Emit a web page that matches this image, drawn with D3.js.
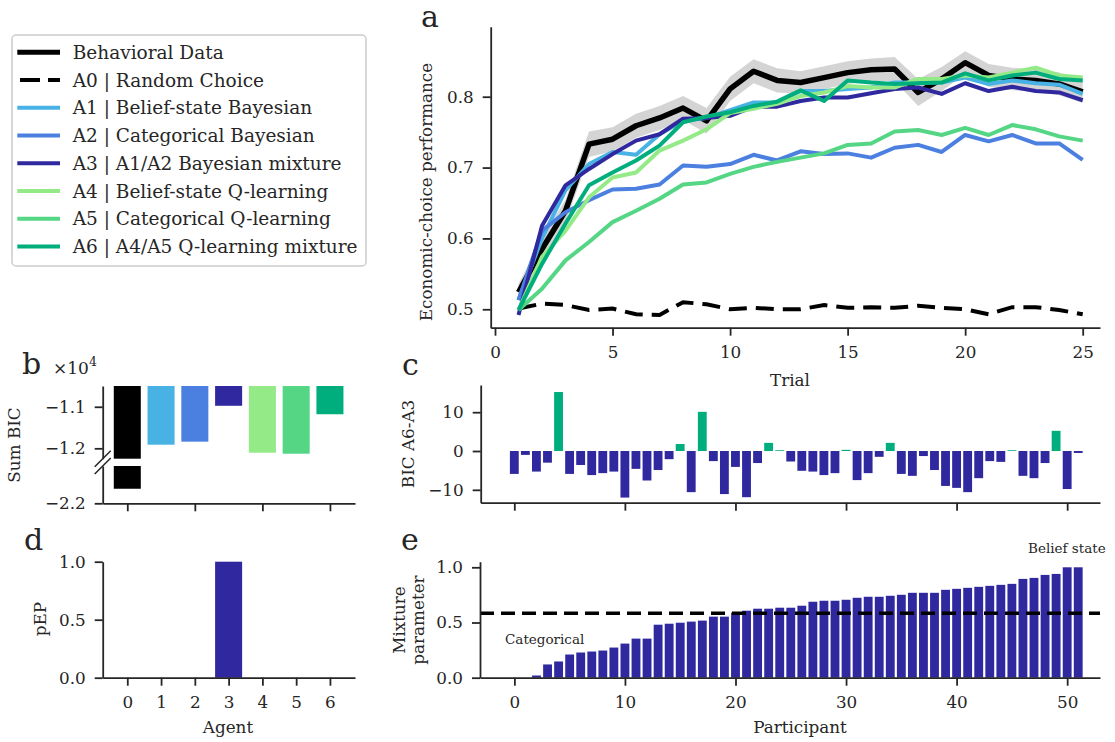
<!DOCTYPE html>
<html><head><meta charset="utf-8">
<script src="https://cdn.jsdelivr.net/npm/d3@7"></script>
<style>
body{margin:0;background:#fff;}
svg{font-family:"DejaVu Serif",serif;}
</style></head><body>
<svg id="chart" width="1115" height="742"></svg>
<script>
// ---------------- data ----------------
const trials = [1,2,3,4,5,6,7,8,9,10,11,12,13,14,15,16,17,18,19,20,21,22,23,24,25];
const behavioral = [0.524,0.585,0.639,0.733,0.740,0.759,0.770,0.784,0.766,0.811,0.836,0.823,0.820,0.827,0.834,0.838,0.839,0.806,0.825,0.848,0.830,0.825,0.823,0.818,0.807];
const behavioralSem = [0.012,0.015,0.016,0.018,0.017,0.017,0.017,0.017,0.018,0.017,0.017,0.017,0.016,0.016,0.016,0.016,0.017,0.019,0.017,0.016,0.016,0.016,0.016,0.016,0.016];
const a0 = [0.501,0.508,0.506,0.499,0.501,0.493,0.492,0.510,0.507,0.500,0.502,0.500,0.500,0.506,0.502,0.503,0.502,0.505,0.502,0.500,0.493,0.503,0.503,0.499,0.493];
const a1 = [0.513,0.600,0.668,0.705,0.722,0.718,0.747,0.766,0.770,0.781,0.792,0.792,0.808,0.808,0.811,0.813,0.820,0.820,0.820,0.827,0.818,0.823,0.819,0.817,0.804];
const a2 = [0.513,0.611,0.637,0.654,0.669,0.670,0.676,0.703,0.701,0.705,0.718,0.710,0.723,0.719,0.720,0.714,0.728,0.732,0.722,0.746,0.737,0.746,0.734,0.734,0.711];
const a3 = [0.492,0.618,0.675,0.698,0.719,0.738,0.747,0.769,0.770,0.773,0.786,0.786,0.794,0.799,0.799,0.805,0.811,0.813,0.804,0.819,0.808,0.814,0.808,0.806,0.795];
const a4 = [0.499,0.574,0.611,0.658,0.686,0.693,0.724,0.738,0.754,0.777,0.783,0.790,0.801,0.806,0.815,0.813,0.813,0.825,0.825,0.830,0.827,0.834,0.841,0.830,0.827];
const a5 = [0.499,0.529,0.569,0.595,0.623,0.639,0.656,0.676,0.679,0.691,0.701,0.708,0.714,0.720,0.732,0.734,0.751,0.753,0.746,0.756,0.746,0.760,0.754,0.744,0.738];
const a6 = [0.499,0.564,0.621,0.675,0.693,0.710,0.731,0.764,0.772,0.778,0.787,0.793,0.809,0.794,0.823,0.820,0.818,0.819,0.820,0.833,0.823,0.830,0.834,0.825,0.823];

const legendLabels = ["Behavioral Data","A0 | Random Choice","A1 | Belief-state Bayesian","A2 | Categorical Bayesian","A3 | A1/A2 Bayesian mixture","A4 | Belief-state Q-learning","A5 | Categorical Q-learning","A6 | A4/A5 Q-learning mixture"];
const agents = [0,1,2,3,4,5,6];
const agentColors = ["#000000","#48b2e4","#4c80e0","#2f289e","#93ea87","#55d685","#00ae7d"];
const sumBIC = [-21650,-11913,-11840,-10976,-12106,-12130,-11180];
const pEP = [0,0,0,1,0,0,0];

const participants = [0,1,2,3,4,5,6,7,8,9,10,11,12,13,14,15,16,17,18,19,20,21,22,23,24,25,26,27,28,29,30,31,32,33,34,35,36,37,38,39,40,41,42,43,44,45,46,47,48,49,50,51];
const bicDiff = [-5.9,-1.0,-5.3,-3.0,15.2,-5.9,-3.6,-6.2,-5.7,-5.3,-12.0,-4.6,-7.6,-4.9,-2.1,1.8,-10.6,10.1,-2.6,-11.1,-4.1,-11.9,-3.1,2.1,0.2,-2.7,-5.1,-5.3,-6.2,-5.7,0.3,-7.5,-5.7,-1.5,2.1,-5.9,-6.4,-1.3,-4.9,-9.0,-9.5,-10.6,-7.0,-2.6,-2.8,0.2,-6.4,-7.0,-3.1,5.2,-9.8,-0.5];
const mixture = [0,0,0.02,0.12,0.147,0.21,0.228,0.237,0.246,0.273,0.309,0.354,0.354,0.48,0.489,0.498,0.508,0.517,0.553,0.553,0.589,0.607,0.625,0.625,0.634,0.634,0.652,0.688,0.697,0.697,0.706,0.724,0.733,0.733,0.742,0.751,0.769,0.769,0.769,0.796,0.805,0.814,0.823,0.832,0.841,0.85,0.895,0.904,0.931,0.94,1.0,1.0];
const mixtureMean = 0.583;

const ticksTrial = [0,5,10,15,20,25];
const ticksPerf = [0.5,0.6,0.7,0.8];
const ticksBicUpper = [-12000,-11000];
const ticksBicLower = [-22000];
const ticksBicDiff = [-10,0,10];
const ticksParticipant = [0,10,20,30,40,50];
const ticksUnit = [0,0.5,1.0];

// ---------------- helpers ----------------
const svg = d3.select("#chart");
const INK = "#262626";
const FS = 16.8;
function styleAxis(g, opts={}) {
  g.select(".domain").attr("stroke", INK).attr("stroke-width", 1.8);
  g.selectAll(".tick line").attr("stroke", INK).attr("stroke-width", 1.8);
  g.selectAll(".tick text").attr("fill", INK).style("font-size", FS + "px").style("font-family", '"DejaVu Serif",serif');
  if (opts.noLabels) g.selectAll(".tick text").remove();
}
function txt(x, y, s, size, anchor="middle", rot=0) {
  const t = svg.append("text").attr("x", x).attr("y", y).text(s)
    .attr("fill", INK).style("font-size", size + "px").attr("text-anchor", anchor);
  if (rot) t.attr("transform", `rotate(${rot},${x},${y})`);
  return t;
}
const fmtMinus = d => d3.format(".1f")(d).replace("-", "\u2212");

// ---------------- panel a ----------------
const xA = d3.scaleLinear().domain([-0.183, 25.736]).range([490.7, 1100]);
const yA = d3.scaleLinear().domain([0.474, 0.8988]).range([327.7, 26.7]);
const gA = svg.append("g");
gA.append("path")
  .datum(trials.map((t,i)=>({t, lo: behavioral[i]-behavioralSem[i], hi: behavioral[i]+behavioralSem[i]})))
  .attr("fill", "#d4d4d4")
  .attr("d", d3.area().x(d=>xA(d.t)).y0(d=>yA(d.lo)).y1(d=>yA(d.hi)));
const lineGen = arr => d3.line().x((d,i)=>xA(trials[i])).y(d=>yA(d))(arr);
gA.append("path").attr("d", lineGen(behavioral)).attr("fill","none").attr("stroke","#000").attr("stroke-width",5.5).attr("stroke-linejoin","round");
gA.append("path").attr("d", lineGen(a0)).attr("fill","none").attr("stroke","#000").attr("stroke-width",4).attr("stroke-dasharray","18,9");
[a1,a2,a3,a4,a5,a6].forEach((s,k)=>{
  gA.append("path").attr("d", lineGen(s)).attr("fill","none").attr("stroke",agentColors[k+1]).attr("stroke-width",4).attr("stroke-linejoin","round");
});
gA.append("g").attr("transform","translate(0,327.7)")
  .call(d3.axisBottom(xA).tickValues(ticksTrial).tickSize(8).tickPadding(10).tickSizeOuter(0)).call(styleAxis);
gA.append("g").attr("transform","translate(490.7,0)")
  .call(d3.axisLeft(yA).tickValues(ticksPerf).tickFormat(d3.format(".1f")).tickSize(8).tickPadding(9).tickSizeOuter(0)).call(styleAxis);
txt(421, 27, "a", 30, "start");
txt(790, 386, "Trial", FS);
txt(432, 192, "Economic-choice performance", FS, "middle", -90);

// ---------------- legend ----------------
const lg = svg.append("g");
lg.append("rect").attr("x",12).attr("y",35).attr("width",354).attr("height",231).attr("rx",4)
  .attr("fill","#fff").attr("stroke","#cccccc").attr("stroke-width",1.5);
const legendRowY = [52.3,80,107.7,135.5,163.3,191,218.7,246.5];
legendLabels.forEach((lab,i)=>{
  const y = legendRowY[i];
  const ln = lg.append("line").attr("x1",17.3).attr("x2",60).attr("y1",y).attr("y2",y)
    .attr("stroke", i<=1 ? "#000" : agentColors[i-1]).attr("stroke-width", i===0 ? 5 : 4);
  if (i===1) ln.attr("x1",20).attr("stroke-dasharray","20,8");
  lg.append("text").attr("x",72.7).attr("y",y).attr("dy","0.36em").text(lab)
    .attr("fill",INK).style("font-size","18.5px");
});

// ---------------- panel b ----------------
const xB = d3.scaleLinear().domain([-0.728, 6.742]).range([102.7, 355]);
const bw = 0.8 * (xB(1) - xB(0));
const yBU = d3.scaleLinear().domain([-12250, -10500]).range([458.7, 386]).clamp(true);
const yBL = d3.scaleLinear().domain([-22000, -21103]).range([503.3, 466]).clamp(true);
const gB = svg.append("g");
agents.forEach(i=>{
  const v = sumBIC[i];
  const top = yBU(-10500), bot = yBU(v);
  gB.append("rect").attr("x", xB(i)-bw/2).attr("y", top).attr("width", bw).attr("height", bot-top).attr("fill", agentColors[i]);
  const lt = yBL(-21103), lb = yBL(v);
  if (lb > lt) gB.append("rect").attr("x", xB(i)-bw/2).attr("y", lt).attr("width", bw).attr("height", lb-lt).attr("fill", agentColors[i]);
});
gB.append("g").attr("transform","translate(102.7,0)")
  .call(d3.axisLeft(yBU).tickValues(ticksBicUpper).tickFormat(d=>fmtMinus(d/1e4)).tickSize(8).tickPadding(9).tickSizeOuter(0)).call(styleAxis);
gB.append("g").attr("transform","translate(102.7,0)")
  .call(d3.axisLeft(yBL).tickValues(ticksBicLower).tickFormat(d=>fmtMinus(d/1e4)).tickSize(8).tickPadding(9).tickSizeOuter(0)).call(styleAxis);
gB.append("g").attr("transform","translate(0,503.3)")
  .call(d3.axisBottom(xB).tickValues([0,2,4,6]).tickSize(8).tickSizeOuter(0)).call(g=>styleAxis(g,{noLabels:true}));
// break marks
[[102.7,458.7],[102.7,466]].forEach(([cx,cy])=>{
  gB.append("line").attr("x1",cx-8).attr("y1",cy+8).attr("x2",cx+8).attr("y2",cy-8).attr("stroke",INK).attr("stroke-width",1.5);
});
txt(22, 374, "b", 30, "start");
const t10 = txt(53, 374, "\u00d710", 17, "start");
t10.append("tspan").attr("dy", -8).style("font-size","12.5px").text("4");
txt(20, 445, "Sum BIC", FS, "middle", -90);

// ---------------- panel c ----------------
const xC = d3.scaleLinear().domain([-3.04, 52.97]).range([480.7, 1100]);
const pw = 0.8 * (xC(1) - xC(0));
const yC = d3.scaleLinear().domain([-13.32, 17.01]).range([502.7, 385]);
const gC = svg.append("g");
participants.forEach(p=>{
  const v = bicDiff[p];
  gC.append("rect").attr("x", xC(p)-pw/2).attr("y", yC(Math.max(0,v))).attr("width", pw)
    .attr("height", Math.abs(yC(v)-yC(0))).attr("fill", v > 0 ? agentColors[6] : agentColors[3]);
});
gC.append("g").attr("transform","translate(0,502.7)")
  .call(d3.axisBottom(xC).tickValues(ticksParticipant).tickSize(8).tickSizeOuter(0)).call(g=>styleAxis(g,{noLabels:true}));
gC.append("g").attr("transform","translate(480.7,0)")
  .call(d3.axisLeft(yC).tickValues(ticksBicDiff).tickFormat(d=>String(d).replace("-","\u2212")).tickSize(8).tickPadding(9).tickSizeOuter(0)).call(styleAxis);
txt(402, 375, "c", 30, "start");
txt(414, 444, "BIC A6-A3", FS, "middle", -90);

// ---------------- panel d ----------------
const yD = d3.scaleLinear().domain([0, 1]).range([677.7, 561.7]);
const gD = svg.append("g");
agents.forEach(i=>{
  if (pEP[i] > 0) gD.append("rect").attr("x", xB(i)-bw/2).attr("y", yD(pEP[i])).attr("width", bw)
    .attr("height", yD(0)-yD(pEP[i])).attr("fill", agentColors[3]);
});
gD.append("g").attr("transform","translate(0,677.7)")
  .call(d3.axisBottom(xB).tickValues(agents).tickSize(8).tickPadding(10).tickSizeOuter(0)).call(styleAxis);
gD.append("g").attr("transform","translate(102.7,0)")
  .call(d3.axisLeft(yD).tickValues(ticksUnit).tickFormat(d3.format(".1f")).tickSize(8).tickPadding(9).tickSizeOuter(0)).call(styleAxis);
txt(24, 550, "d", 30, "start");
txt(46, 619, "pEP", FS, "middle", -90);
txt(228, 733, "Agent", FS);

// ---------------- panel e ----------------
const xE = d3.scaleLinear().domain([-3.11, 52.97]).range([480, 1100]);
const yE = d3.scaleLinear().domain([0, 1.0507]).range([677.7, 561.7]);
const gE = svg.append("g");
participants.forEach(p=>{
  const v = mixture[p];
  if (v > 0) gE.append("rect").attr("x", xE(p)-pw/2).attr("y", yE(v)).attr("width", pw)
    .attr("height", yE(0)-yE(v)).attr("fill", agentColors[3]);
});
gE.append("line").attr("x1",480).attr("x2",1100).attr("y1",yE(mixtureMean)).attr("y2",yE(mixtureMean))
  .attr("stroke","#000").attr("stroke-width",3.5).attr("stroke-dasharray","14,7");
gE.append("g").attr("transform","translate(0,677.7)")
  .call(d3.axisBottom(xE).tickValues(ticksParticipant).tickSize(8).tickPadding(10).tickSizeOuter(0)).call(styleAxis);
gE.append("g").attr("transform","translate(480,0)")
  .call(d3.axisLeft(yE).tickValues(ticksUnit).tickFormat(d3.format(".1f")).tickSize(8).tickPadding(9).tickSizeOuter(0)).call(styleAxis);
txt(401, 550, "e", 30, "start");
txt(405, 620, "Mixture", FS, "middle", -90);
txt(424, 620, "parameter", FS, "middle", -90);
txt(800, 733, "Participant", FS);
txt(505, 644, "Categorical", 13.5, "start");
txt(1028, 553, "Belief state", 13.5, "start");
</script>
</body></html>
